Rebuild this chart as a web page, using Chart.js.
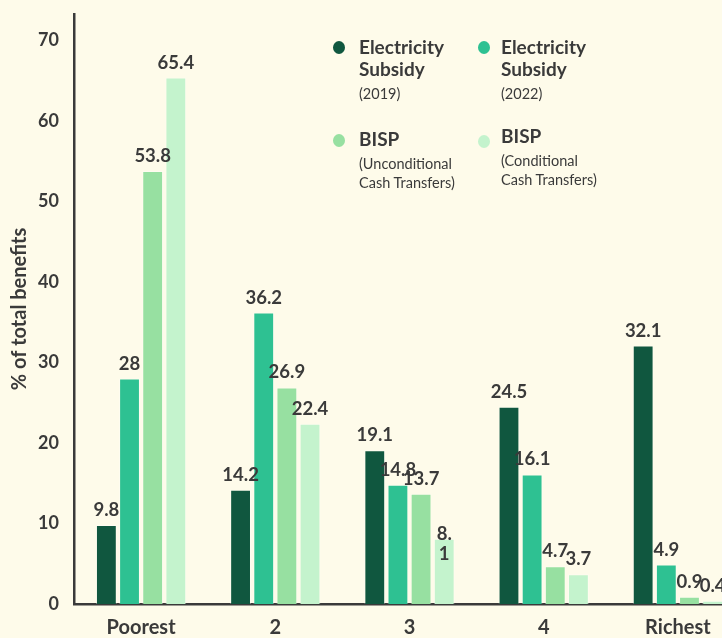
<!DOCTYPE html>
<html>
<head>
<meta charset="utf-8">
<script src="https://cdn.jsdelivr.net/npm/chart.js@4.4.1/dist/chart.umd.min.js"></script>
<style>
  html, body { margin: 0; padding: 0; background: #fefbea; overflow: hidden; }
  #wrap { position: relative; width: 745px; height: 638px; }
  #legend { position: absolute; left: 0; top: 0; font-family: Lato, sans-serif; color: #3a3a3a; }
  .dot { position: absolute; width: 12px; height: 13px; border-radius: 50%; }
  .name { position: absolute; font-weight: bold; font-size: 19px; line-height: 22px; white-space: nowrap; }
  .note { position: absolute; font-size: 14.5px; line-height: 19px; white-space: nowrap; }
</style>
</head>
<body>
<div id="wrap">
  <canvas id="chart" width="745" height="638"></canvas>
  <div id="legend"></div>
</div>
<script>
const categories = ['Poorest', '2', '3', '4', 'Richest'];
const elec2019 = [9.8, 14.2, 19.1, 24.5, 32.1];
const elec2022 = [28, 36.2, 14.8, 16.1, 4.9];
const bispUct = [53.8, 26.9, 13.7, 4.7, 0.9];
const bispCct = [65.4, 22.4, 8.1, 3.7, 0.4];
const yTicks = [0, 10, 20, 30, 40, 50, 60, 70];

const seriesTitle = [['Electricity', 'Subsidy'], ['Electricity', 'Subsidy'], ['BISP'], ['BISP']];
const seriesNote = [['(2019)'], ['(2022)'], ['(Unconditional', 'Cash Transfers)'], ['(Conditional', 'Cash Transfers)']];
const colors = ['#10573f', '#2ec192', '#97e0a1', '#c4f3cd'];

// the 8.1 label wraps in the original
const wrapped = ['8.1'];

const ink = '#3a3a3a';

const valueLabels = {
    id: 'valueLabels',
    afterDatasetsDraw(chart) {
        const ctx = chart.ctx;
        ctx.save();
        ctx.font = 'bold 18.5px Lato';
        ctx.fillStyle = ink;
        ctx.textAlign = 'center';
        ctx.textBaseline = 'alphabetic';
        chart.data.datasets.forEach((ds, i) => {
            chart.getDatasetMeta(i).data.forEach((bar, j) => {
                const txt = String(ds.data[j]);
                if (wrapped.includes(txt)) {
                    const k = txt.indexOf('.') + 1;
                    ctx.fillText(txt.slice(0, k), bar.x, bar.y + 1);
                    ctx.fillText(txt.slice(k), bar.x, bar.y + 21);
                } else {
                    ctx.fillText(txt, bar.x, bar.y - 9);
                }
            });
        });
        ctx.restore();
    }
};

new Chart(document.getElementById('chart'), {
    type: 'bar',
    data: {
        labels: categories,
        datasets: [elec2019, elec2022, bispUct, bispCct].map((d, i) => ({
            label: seriesTitle[i].join(' ') + ' ' + seriesNote[i].join(' '),
            data: d,
            backgroundColor: colors[i],
            borderColor: 'rgba(255,255,255,0.35)',
            borderWidth: 1,
            categoryPercentage: 0.69,
            barPercentage: 0.9
        }))
    },
    options: {
        responsive: false,
        animation: false,
        layout: { padding: { top: 14, left: 8, right: 0, bottom: 0 } },
        plugins: {
            legend: { display: false },
            tooltip: { enabled: false }
        },
        scales: {
            x: {
                grid: { display: false, drawTicks: false },
                border: { color: ink, width: 2.5 },
                ticks: { color: ink, font: { family: 'Lato', weight: 'bold', size: 20 }, padding: 12, maxRotation: 0 },
                afterFit(s) { s.height = 34; s.paddingLeft = 0; s.paddingRight = 0; }
            },
            y: {
                min: 0,
                max: 73.3,
                afterBuildTicks(s) { s.ticks = yTicks.map(v => ({ value: v })); },
                grid: { display: false, drawTicks: false },
                border: { color: ink, width: 2.5 },
                ticks: { color: ink, font: { family: 'Lato', weight: 'bold', size: 18 }, padding: 15 },
                title: { display: true, text: '% of total benefits', color: ink, font: { family: 'Lato', weight: 'bold', size: 20 }, padding: 0 },
                afterFit(s) { s.width = 66; s.paddingTop = 0; s.paddingBottom = 0; }
            }
        }
    },
    plugins: [valueLabels]
});

// legend laid out as a 2 x 2 grid
const legendPos = [
    { x: 339, y: 47, tx: 359, ty: 36 },
    { x: 484, y: 47, tx: 501, ty: 36 },
    { x: 339, y: 140, tx: 359, ty: 128 },
    { x: 484, y: 141, tx: 501, ty: 125 }
];
const legend = document.getElementById('legend');
legendPos.forEach((p, i) => {
    const dot = document.createElement('div');
    dot.className = 'dot';
    dot.style.background = colors[i];
    dot.style.left = (p.x - 6) + 'px';
    dot.style.top = (p.y - 6) + 'px';
    legend.appendChild(dot);
    const name = document.createElement('div');
    name.className = 'name';
    name.style.left = p.tx + 'px';
    name.style.top = p.ty + 'px';
    name.innerHTML = seriesTitle[i].join('<br>');
    legend.appendChild(name);
    const note = document.createElement('div');
    note.className = 'note';
    note.style.left = p.tx + 'px';
    note.style.top = (p.ty + seriesTitle[i].length * 22 + 4) + 'px';
    note.innerHTML = seriesNote[i].join('<br>');
    legend.appendChild(note);
});
</script>
</body>
</html>
